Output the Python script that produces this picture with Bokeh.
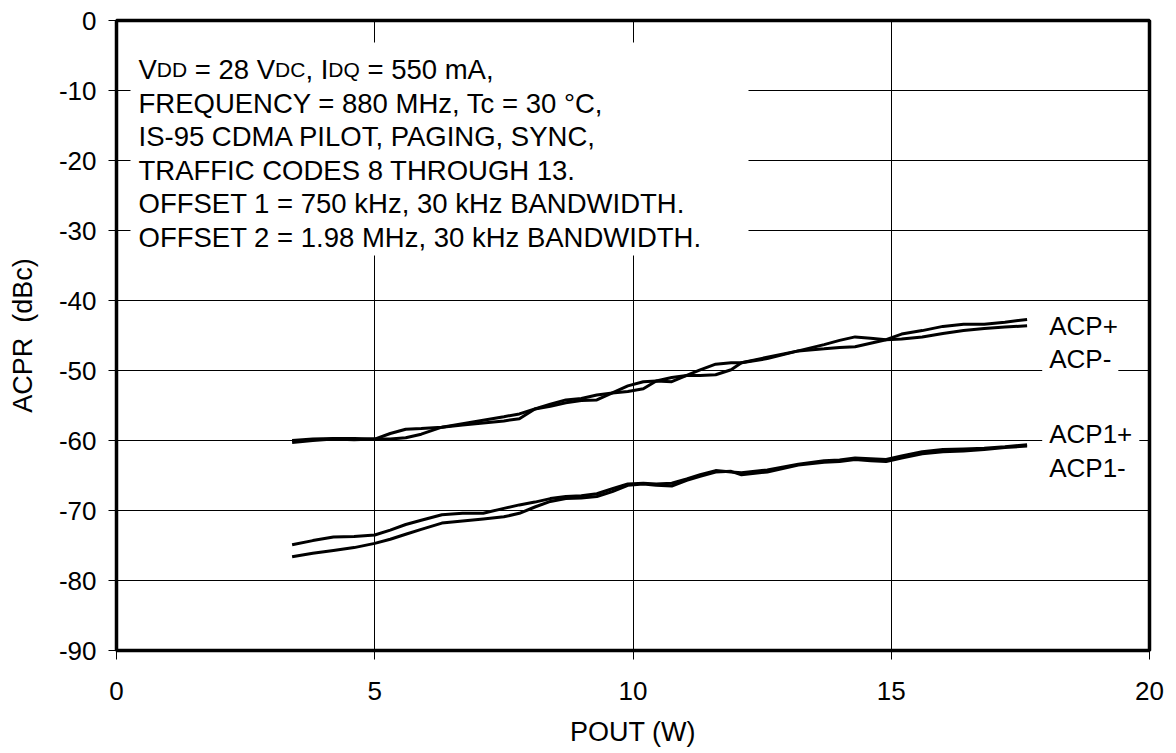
from bokeh.plotting import figure
from bokeh.models import Range1d, FixedTicker
from bokeh.core.properties import value
from bokeh.embed import file_html
from bokeh.resources import INLINE

# ---------------- data ----------------
pout = [3.4, 3.8, 4.2, 4.6, 5.0, 5.3, 5.6, 5.9, 6.3, 6.7, 7.1, 7.5, 7.8, 8.1, 8.4, 8.7,
        9.0, 9.3, 9.6, 9.9, 10.2, 10.45, 10.75, 11.04, 11.3, 11.6, 11.9, 12.1, 12.6, 13.2,
        13.7, 14.0, 14.3, 14.6, 14.9, 15.2, 15.6, 16.0, 16.4, 16.8, 17.2, 17.63]

acp_plus = [-60.3, -60.0, -59.8, -59.9, -59.8, -59.0, -58.4, -58.3, -58.1, -57.8, -57.5, -57.2,
            -56.9, -55.5, -54.8, -54.2, -54.0, -53.5, -53.2, -53.0, -52.6, -51.5, -51.0, -50.7,
            -50.7, -50.6, -49.9, -48.9, -48.1, -47.2, -46.9, -46.7, -46.6, -46.1, -45.6, -44.8,
            -44.3, -43.7, -43.4, -43.4, -43.1, -42.7]

acp_minus = [-60.0, -59.8, -59.7, -59.7, -59.8, -59.8, -59.6, -59.1, -58.1, -57.6, -57.1, -56.6,
             -56.2, -55.5, -55.1, -54.6, -54.3, -54.2, -53.2, -52.2, -51.6, -51.5, -51.6, -50.7,
             -49.9, -49.1, -48.9, -48.9, -48.3, -47.2, -46.3, -45.7, -45.2, -45.4, -45.6, -45.5,
             -45.2, -44.7, -44.3, -44.0, -43.8, -43.6]

acp1_plus = [-74.9, -74.3, -73.8, -73.7, -73.5, -72.8, -72.0, -71.4, -70.6, -70.4, -70.4, -69.7,
             -69.2, -68.8, -68.3, -68.0, -67.9, -67.6, -66.9, -66.2, -66.1, -66.2, -66.1, -65.5,
             -64.9, -64.3, -64.5, -64.6, -64.2, -63.4, -62.9, -62.8, -62.5, -62.6, -62.7, -62.2,
             -61.6, -61.3, -61.2, -61.1, -60.9, -60.6]

acp1_minus = [-76.6, -76.1, -75.7, -75.3, -74.7, -74.1, -73.4, -72.7, -71.8, -71.5, -71.2, -70.9,
              -70.4, -69.5, -68.7, -68.3, -68.2, -68.0, -67.3, -66.4, -66.2, -66.4, -66.5, -65.7,
              -65.1, -64.5, -64.4, -64.9, -64.5, -63.5, -63.1, -63.0, -62.7, -62.9, -63.0, -62.5,
              -61.9, -61.6, -61.5, -61.3, -61.0, -60.8]

x_ticks = [0, 5, 10, 15, 20]
x_tick_labels = ["0", "5", "10", "15", "20"]
y_ticks = [0, -10, -20, -30, -40, -50, -60, -70, -80, -90]
y_tick_labels = ["0", "-10", "-20", "-30", "-40", "-50", "-60", "-70", "-80", "-90"]

series_labels = ["ACP+", "ACP-", "ACP1+", "ACP1-"]

cond_line1 = [("V", "big"), ("DD", "small"), (" = 28 V", "big"), ("DC", "small"),
              (", I", "big"), ("DQ", "small"), (" = 550 mA,", "big")]
cond_lines = ["FREQUENCY = 880 MHz, Tc = 30 \u00b0C,",
              "IS-95 CDMA PILOT, PAGING, SYNC,",
              "TRAFFIC CODES 8 THROUGH 13.",
              "OFFSET 1 = 750 kHz, 30 kHz BANDWIDTH.",
              "OFFSET 2 = 1.98 MHz, 30 kHz BANDWIDTH."]
x_title = "POUT (W)"
y_title = "ACPR \u00a0(dBc)"

# ---------------- layout ----------------
FONT = "Liberation Sans"
BIG = 27.5
SMALL = 21
FW, FH = 1033, 630
XMIN, XMAX, YMIN, YMAX = 0, 20, -90, 0
PXX = FW / (XMAX - XMIN)
PXY = FH / (YMAX - YMIN)


def dx(px):
    return XMIN + px / PXX


def dy(px):
    return YMAX - px / PXY


# Arial/Liberation Sans advance widths (em)
W = {" ": .278, ",": .278, ".": .278, "-": .333, "=": .584, "(": .333, ")": .333,
     "0": .556, "1": .556, "2": .556, "3": .556, "4": .556, "5": .556, "6": .556,
     "7": .556, "8": .556, "9": .556,
     "A": .667, "C": .722, "D": .722, "I": .278, "O": .778, "P": .667, "Q": .778,
     "T": .611, "U": .722, "V": .667, "W": .944, "m": .833}


def width(s, size):
    return sum(W.get(c, .6) for c in s) * size


def fsize(kind):
    return BIG if kind == "big" else SMALL


p = figure(frame_width=FW, frame_height=FH,
           x_range=Range1d(XMIN, XMAX), y_range=Range1d(YMIN, YMAX),
           output_backend="svg", toolbar_location=None,
           min_border_left=116, min_border_top=20, min_border_right=20,
           min_border_bottom=103)
p.background_fill_color = "white"
p.border_fill_color = "white"
p.outline_line_color = "black"
p.outline_line_width = 3.5
p.outline_line_alpha = 1

for ax, ticks, labels in ((p.xaxis[0], x_ticks, x_tick_labels),
                          (p.yaxis[0], y_ticks, y_tick_labels)):
    ax.ticker = FixedTicker(ticks=ticks)
    ax.major_label_overrides = {float(t): l for t, l in zip(ticks, labels)}
    ax.axis_line_color = None
    ax.major_tick_in = 0
    ax.major_tick_line_color = "black"
    ax.minor_tick_line_color = None
    ax.major_label_text_font = FONT
    ax.major_label_text_font_size = "26px"
    ax.major_label_text_color = "black"
    ax.axis_label_text_font = FONT
    ax.axis_label_text_font_size = "27px"
    ax.axis_label_text_font_style = "normal"
    ax.axis_label_text_color = "black"

p.xaxis.major_tick_out = 9
p.yaxis.major_tick_out = 8
p.xaxis.major_label_standoff = 22
p.yaxis.major_label_standoff = 12
p.yaxis.axis_label = y_title
p.yaxis.axis_label_standoff = 18
p.xaxis.axis_label = x_title
p.xaxis.axis_label_standoff = 14

p.xgrid.ticker = FixedTicker(ticks=x_ticks)
p.ygrid.ticker = FixedTicker(ticks=y_ticks)
p.grid.grid_line_color = "black"
p.grid.grid_line_alpha = 1
p.grid.grid_line_width = 1

# white box behind the conditions text
p.quad(left=dx(14), right=dx(632), top=dy(22), bottom=dy(235),
       fill_color="white", line_color=None)

# curves
for ys in (acp_plus, acp_minus, acp1_plus, acp1_minus):
    p.line(pout, ys, line_color="black", line_width=3)

# conditions text
TX = 22
BASE0 = 49
LSTEP = 33.5
cx = TX
for s, kind in cond_line1:
    fs = fsize(kind)
    core = s.strip(" ")
    cx += (len(s) - len(s.lstrip(" "))) * W[" "] * fs
    p.text(x=[dx(cx)], y=[dy(BASE0)], text=[core], text_font=value(FONT),
           text_font_size=f"{fs}px", text_color="black",
           text_align="left", text_baseline="alphabetic")
    cx += width(core, fs)
    cx += (len(s) - len(s.rstrip(" "))) * W[" "] * fs
for i, s in enumerate(cond_lines):
    p.text(x=[dx(TX)], y=[dy(BASE0 + (i + 1) * LSTEP)], text=[s], text_font=value(FONT),
           text_font_size=f"{BIG}px", text_color="black",
           text_align="left", text_baseline="alphabetic")

# series labels
lab_px_x = 925.7
lab_px_y = [305, 338.3, 413.3, 447.3]
p.text(x=[dx(lab_px_x)] * 4, y=[dy(v) for v in lab_px_y], text=series_labels,
       text_font=value(FONT), text_font_size="26px", text_color="black",
       text_align="left", text_baseline="alphabetic",
       background_fill_color="white", background_fill_alpha=1, padding=7)

open("out.html", "w").write(file_html(p, INLINE))
